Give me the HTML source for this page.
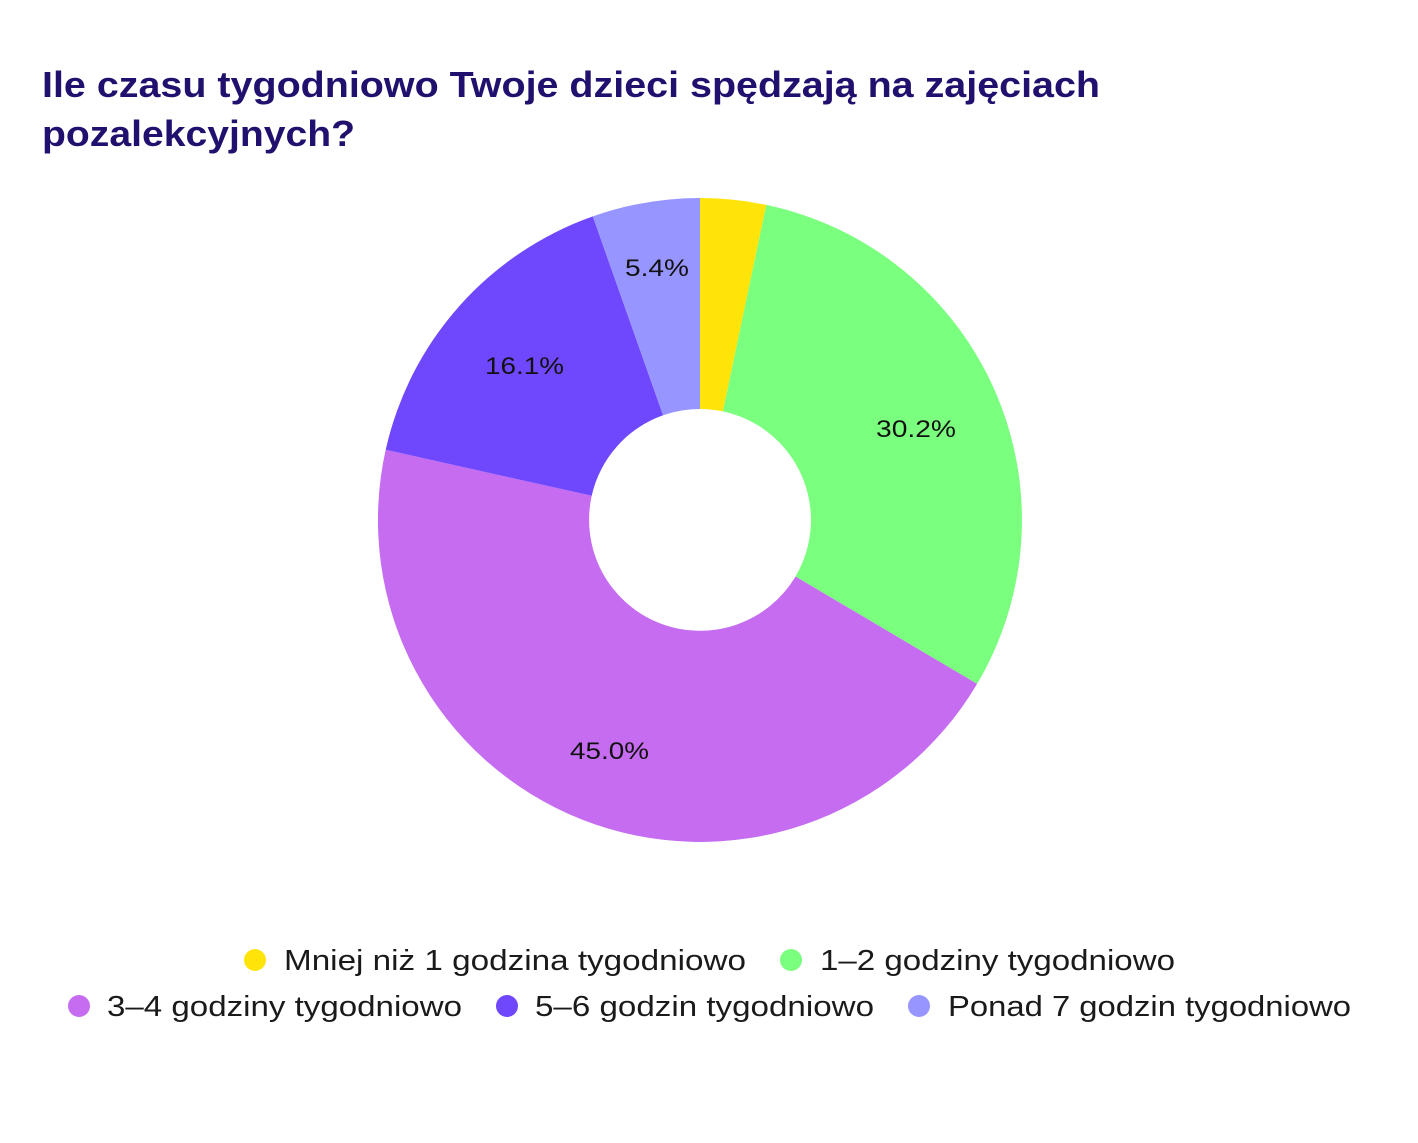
<!DOCTYPE html>
<html><head><meta charset="utf-8"><style>html,body{margin:0;padding:0;background:#fff}</style></head>
<body>
<svg width="1418" height="1138" viewBox="0 0 1418 1138" xmlns="http://www.w3.org/2000/svg">
<rect width="1418" height="1138" fill="#fff"/>
<g font-family="Liberation Sans, Arial, sans-serif" font-weight="bold" font-size="36" fill="#21106e">
<text x="42" y="97" textLength="1058" lengthAdjust="spacingAndGlyphs">Ile czasu tygodniowo Twoje dzieci spędzają na zajęciach</text>
<text x="42" y="146" textLength="313" lengthAdjust="spacingAndGlyphs">pozalekcyjnych?</text>
</g>
<g>
<path d="M700,198 A322,322 0 0 1 766.3,204.9 L722.9,411.4 A111,111 0 0 0 700,409 Z" fill="#ffe40a"/>
<path d="M766.3,204.9 A322,322 0 0 1 977.1,683.9 L795.5,576.5 A111,111 0 0 0 722.9,411.4 Z" fill="#7aff7e"/>
<path d="M977.1,683.9 A322,322 0 0 1 385.7,449.8 L591.7,495.8 A111,111 0 0 0 795.5,576.5 Z" fill="#c56cf0"/>
<path d="M385.7,449.8 A322,322 0 0 1 592.8,216.4 L663.1,415.3 A111,111 0 0 0 591.7,495.8 Z" fill="#6f48fd"/>
<path d="M592.8,216.4 A322,322 0 0 1 700,198 L700,409 A111,111 0 0 0 663.1,415.3 Z" fill="#9795ff"/>
</g>
<g font-family="Liberation Sans, Arial, sans-serif" font-size="24" fill="#111">
<text x="625" y="276" textLength="64" lengthAdjust="spacingAndGlyphs">5.4%</text>
<text x="485" y="374" textLength="79" lengthAdjust="spacingAndGlyphs">16.1%</text>
<text x="876" y="437" textLength="80" lengthAdjust="spacingAndGlyphs">30.2%</text>
<text x="570" y="759" textLength="79" lengthAdjust="spacingAndGlyphs">45.0%</text>
</g>
<g font-family="Liberation Sans, Arial, sans-serif" font-size="29" fill="#1a1a1a">
<circle cx="255" cy="960" r="11" fill="#ffe40a"/>
<text x="284" y="970" textLength="462" lengthAdjust="spacingAndGlyphs">Mniej niż 1 godzina tygodniowo</text>
<circle cx="791" cy="960" r="11" fill="#7aff7e"/>
<text x="820" y="970" textLength="355" lengthAdjust="spacingAndGlyphs">1–2 godziny tygodniowo</text>
<circle cx="79" cy="1006" r="11" fill="#c56cf0"/>
<text x="107" y="1016" textLength="355" lengthAdjust="spacingAndGlyphs">3–4 godziny tygodniowo</text>
<circle cx="507" cy="1006" r="11" fill="#6f48fd"/>
<text x="535" y="1016" textLength="339" lengthAdjust="spacingAndGlyphs">5–6 godzin tygodniowo</text>
<circle cx="919" cy="1006" r="11" fill="#9795ff"/>
<text x="948" y="1016" textLength="403" lengthAdjust="spacingAndGlyphs">Ponad 7 godzin tygodniowo</text>
</g>
</svg>
</body></html>
